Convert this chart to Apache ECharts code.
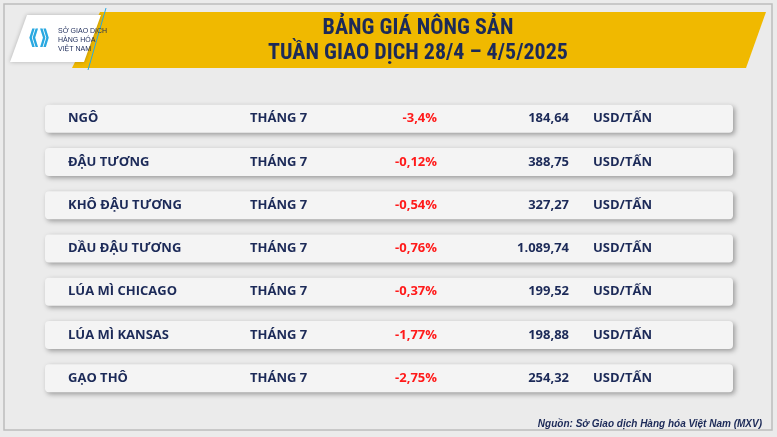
<!DOCTYPE html>
<html><head><meta charset="utf-8">
<script src="https://cdn.jsdelivr.net/npm/echarts@6/dist/echarts.min.js"></script>
<style>html,body{margin:0;padding:0;background:#e9e9e9}#c{width:777px;height:437px}</style>
</head><body><div id="c"></div>
<script>
const products = ['NGÔ','ĐẬU TƯƠNG','KHÔ ĐẬU TƯƠNG','DẦU ĐẬU TƯƠNG','LÚA MÌ CHICAGO','LÚA MÌ KANSAS','GẠO THÔ'];
const months = ['THÁNG 7','THÁNG 7','THÁNG 7','THÁNG 7','THÁNG 7','THÁNG 7','THÁNG 7'];
const changes = ['-3,4%','-0,12%','-0,54%','-0,76%','-0,37%','-1,77%','-2,75%'];
const prices = ['184,64','388,75','327,27','1.089,74','199,52','198,88','254,32'];
const units = ['USD/TẤN','USD/TẤN','USD/TẤN','USD/TẤN','USD/TẤN','USD/TẤN','USD/TẤN'];
const titleLines = ['BẢNG GIÁ NÔNG SẢN','TUẦN GIAO DỊCH 28/4 – 4/5/2025'];
const sourceText = 'Nguồn: Sở Giao dịch Hàng hóa Việt Nam (MXV)';

const chart = echarts.init(document.getElementById('c'));
const navy = '#1c2a58';
const F = '"Liberation Sans Narrow","Roboto Condensed","Liberation Sans",sans-serif';
chart.setOption({
  backgroundColor: '#ebebeb',
  animation: false,
  grid: {left: 45, right: 44, top: 97, bottom: 37},
  xAxis: {type: 'value', min: 0, max: 1, show: false},
  yAxis: {type: 'category', data: products, inverse: true, show: false},
  graphic: [
    {type:'rect', shape:{x:4,y:4,width:768,height:426}, style:{fill:'none',stroke:'#bdbdbd',lineWidth:1.5}},
    {type:'polygon', shape:{points:[[100,12],[766,12],[746,68],[72,68]]}, style:{fill:'#f0b900'}},
    {type:'polygon', shape:{points:[[27,15],[101,15],[84,62],[10,62]]}, style:{fill:'#ffffff',shadowBlur:4,shadowColor:'rgba(0,0,0,0.25)'}},
    {type:'line', shape:{x1:106,y1:8,x2:88,y2:70}, style:{stroke:'#29a8e0',lineWidth:1}},
    {type:'text', x:28, y:28, style:{text:'⟪⟫', fill:'#29a8e0', font:'bold 20px sans-serif'}},
    {type:'text', x:58, y:27, style:{text:'SỞ GIAO DỊCH\nHÀNG HÓA\nVIỆT NAM', fill:navy, font:'7px sans-serif', lineHeight:9}},
    {type:'text', x:418, y:28, style:{text:titleLines[0], fill:navy, font:'bold 22px '+F, align:'center', verticalAlign:'middle'}},
    {type:'text', x:418, y:53, style:{text:titleLines[1], fill:navy, font:'bold 22px '+F, align:'center', verticalAlign:'middle'}},
    {type:'text', x:762, y:424, style:{text:sourceText, fill:navy, font:'italic bold 10px "Liberation Sans",sans-serif', align:'right', verticalAlign:'middle'}}
  ],
  series: [{
    type: 'custom',
    data: products.map((p,i)=>[0,i]),
    renderItem: (params, api) => {
      const i = api.value(1);
      const c0 = api.coord([0,i]);
      const c1 = api.coord([1,i]);
      const y = c0[1];
      const x0 = c0[0], w = c1[0]-c0[0];
      const font = 'bold 13px "Open Sans",sans-serif';
      return {type:'group', children:[
        {type:'rect', shape:{x:x0,y:y-14,width:w,height:28,r:4}, style:{fill:'#f4f4f4',shadowBlur:5,shadowOffsetX:2,shadowOffsetY:2,shadowColor:'rgba(0,0,0,0.35)'}},
        {type:'text', x:x0+23, y:y, style:{text:products[i], fill:navy, font:font, verticalAlign:'middle'}},
        {type:'text', x:x0+205, y:y, style:{text:months[i], fill:navy, font:font, verticalAlign:'middle'}},
        {type:'text', x:x0+392, y:y, style:{text:changes[i], fill:'#ff1a1a', font:font, align:'right', verticalAlign:'middle'}},
        {type:'text', x:x0+524, y:y, style:{text:prices[i], fill:navy, font:font, align:'right', verticalAlign:'middle'}},
        {type:'text', x:x0+548, y:y, style:{text:units[i], fill:navy, font:font, verticalAlign:'middle'}}
      ]};
    }
  }]
});
</script></body></html>
